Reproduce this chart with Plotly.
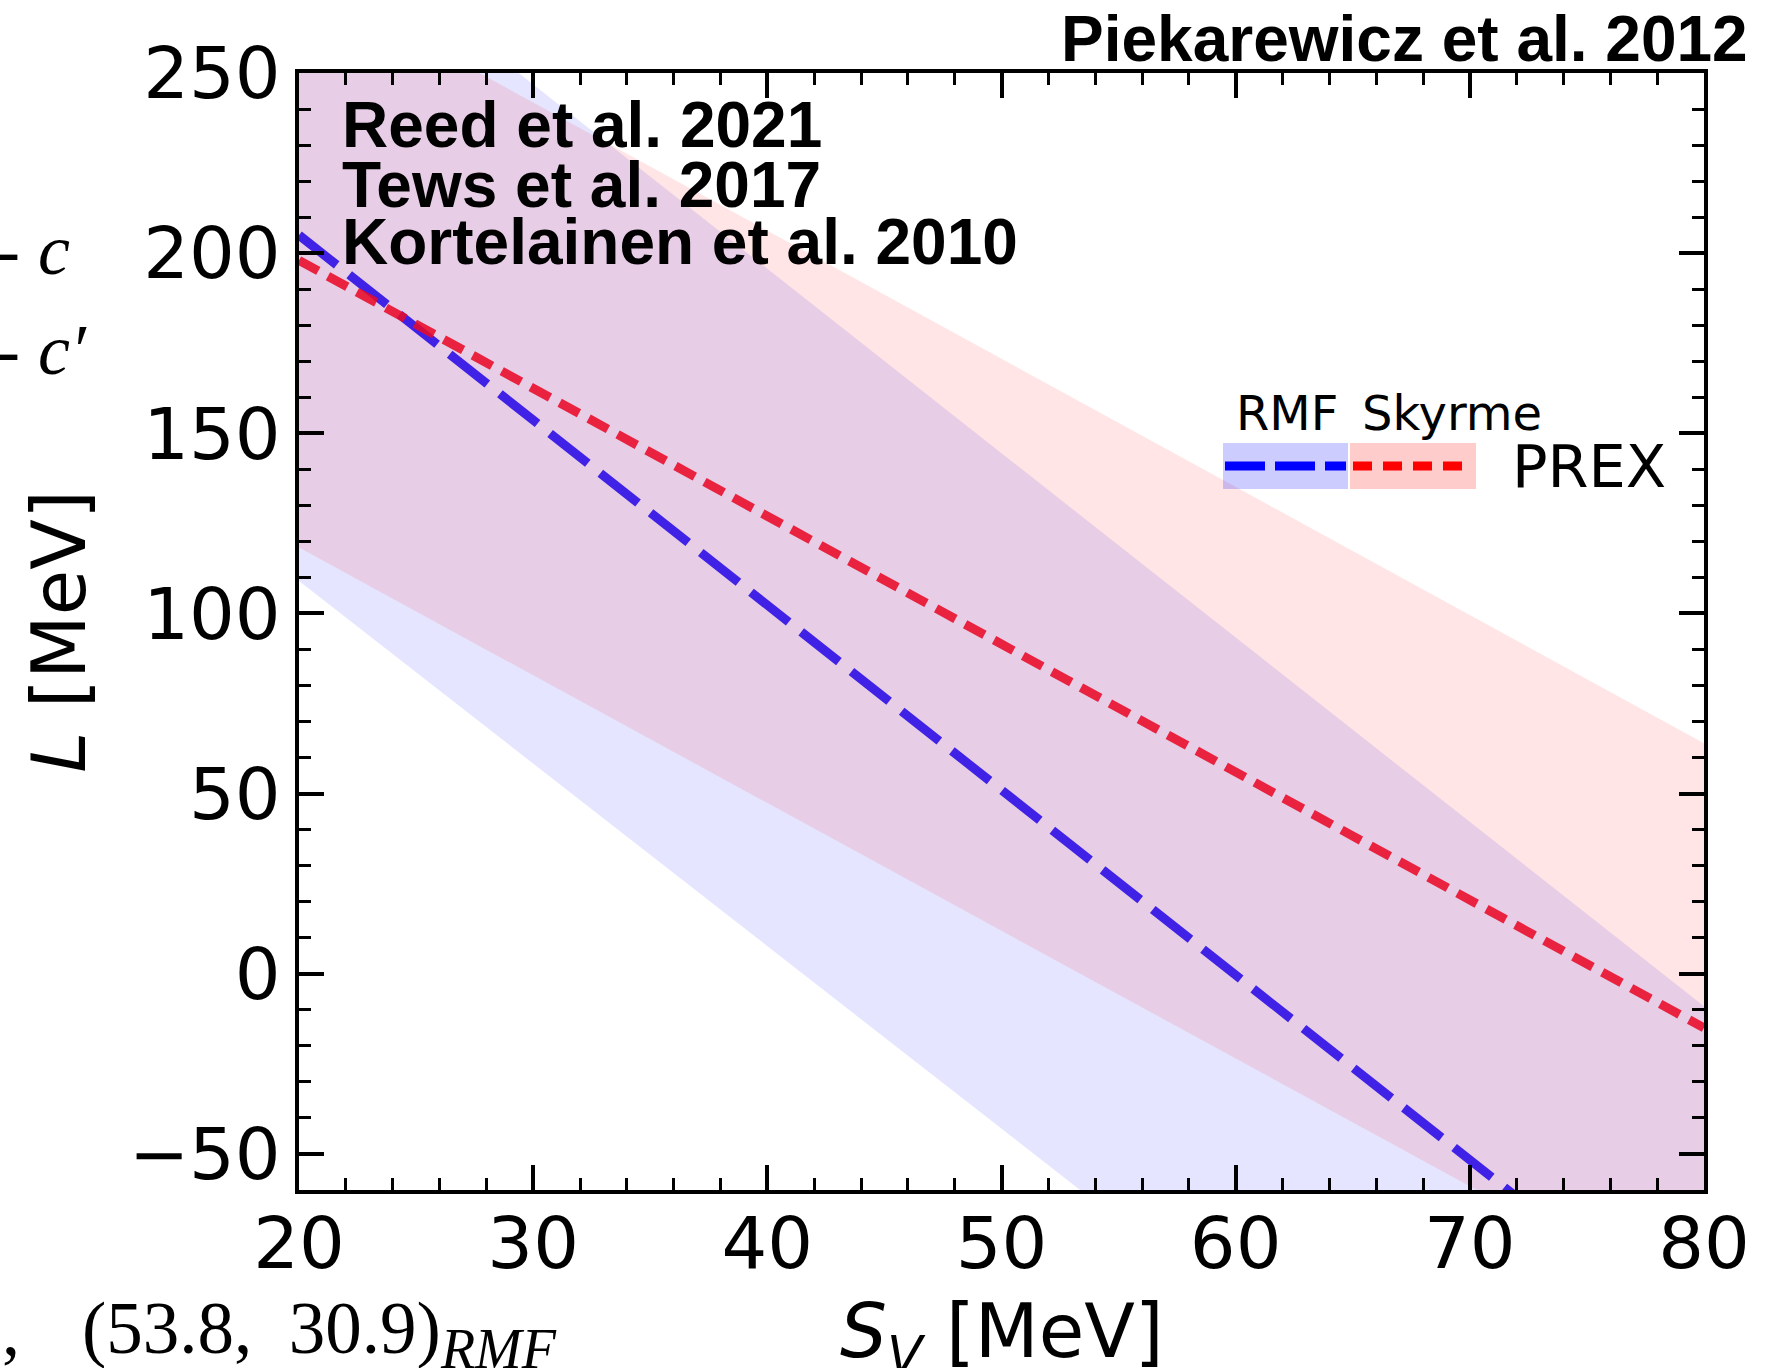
import plotly.graph_objects as go

# ---------------- data ----------------
sv_edges = [20, 80]                 # S_V [MeV] at the left / right plot edges
rmf_upper = [298.0, -9.0]           # RMF band upper edge, L [MeV]
rmf_lower = [109.0, -195.0]         # RMF band lower edge
sky_upper = [277.4, 64.0]           # Skyrme band upper edge
sky_lower = [118.3, -94.4]          # Skyrme band lower edge
rmf_line = [205.0, -103.0]          # RMF PREX line
sky_line = [198.0, -15.0]           # Skyrme PREX line

x_ticks = [20, 30, 40, 50, 60, 70, 80]
y_ticks = [-50, 0, 50, 100, 150, 200, 250]
x_range = [20, 80]
y_range = [-60, 250]

ref_labels = ["Reed et al. 2021", "Tews et al. 2017", "Kortelainen et al. 2010"]
title_text = "Piekarewicz et al. 2012"
legend_cols = ["RMF", "Skyrme"]
legend_row = "PREX"
x_title = "<i>S</i><sub><i>V</i></sub> [MeV]"
y_title = "<i>L</i> [MeV]"

# ---------------- layout geometry (pixels) ----------------
W, H = 1785, 1368
L0, R0, T0, B0 = 299, 1704, 73, 1190


def px_x(px):
    return (px - L0) / (R0 - L0)


def px_y(py):
    return (B0 - py) / (B0 - T0)


fig = go.Figure()

# bands
fig.add_trace(go.Scatter(
    x=sv_edges + sv_edges[::-1], y=rmf_upper + rmf_lower[::-1],
    fill="toself", fillcolor="rgba(0,0,255,0.10)", line=dict(width=0),
    mode="lines", hoverinfo="skip", showlegend=False))
fig.add_trace(go.Scatter(
    x=sv_edges + sv_edges[::-1], y=sky_upper + sky_lower[::-1],
    fill="toself", fillcolor="rgba(255,0,0,0.10)", line=dict(width=0),
    mode="lines", hoverinfo="skip", showlegend=False))

# lines
fig.add_trace(go.Scatter(
    x=sv_edges, y=rmf_line, mode="lines",
    line=dict(color="rgba(40,10,230,0.88)", width=9, dash="48px,16px"),
    showlegend=False))
fig.add_trace(go.Scatter(
    x=sv_edges, y=sky_line, mode="lines",
    line=dict(color="rgba(232,10,40,0.88)", width=9, dash="22px,11px"),
    showlegend=False))

tickfont = dict(family="DejaVu Sans", size=72, color="black")
axis_common = dict(
    ticks="inside", ticklen=25, tickwidth=4, tickcolor="black",
    showline=True, linewidth=4, linecolor="black", mirror="allticks",
    showgrid=False, zeroline=False, tickfont=tickfont,
)

fig.update_layout(
    width=W, height=H,
    margin=dict(l=L0, r=W - R0, t=T0, b=H - B0, autoexpand=False),
    paper_bgcolor="white", plot_bgcolor="white",
    showlegend=False,
    xaxis=dict(range=x_range, tickmode="array", tickvals=x_ticks,
               ticklabelstandoff=-12,
               minor=dict(tick0=20, dtick=2, ticks="inside", ticklen=12,
                          tickwidth=3, tickcolor="black"),
               **axis_common),
    yaxis=dict(range=y_range, tickmode="array", tickvals=y_ticks,
               minor=dict(tick0=0, dtick=10, ticks="inside", ticklen=12,
                          tickwidth=3, tickcolor="black"),
               title=dict(text=y_title,
                          font=dict(family="DejaVu Sans", size=74, color="black"),
                          standoff=20),
               **axis_common),
)

ann = []
# x-axis title (placed as annotation so it can run off the bottom edge as in the reference)
ann.append(dict(text=x_title, x=px_x(1002), y=px_y(1336), xref="paper", yref="paper",
                xanchor="center", yanchor="middle", showarrow=False,
                font=dict(family="DejaVu Sans", size=74, color="black")))
# title (top right)
ann.append(dict(text="<b>%s</b>" % title_text, x=px_x(1750), y=px_y(39),
                xref="paper", yref="paper", xanchor="right", yanchor="middle",
                showarrow=False, font=dict(family="Liberation Sans", size=64, color="black")))
# reference block
for lab, ypx in zip(ref_labels, [125, 185, 242]):
    ann.append(dict(text="<b>%s</b>" % lab, x=px_x(340), y=px_y(ypx),
                    xref="paper", yref="paper", xanchor="left", yanchor="middle",
                    showarrow=False, font=dict(family="Liberation Sans", size=64, color="black")))

# manual legend
blue_patch = (1223, 1348)
red_patch = (1350, 1476)
patch_y = (443, 489)
shapes = [
    dict(type="rect", xref="paper", yref="paper",
         x0=px_x(blue_patch[0]), x1=px_x(blue_patch[1]),
         y0=px_y(patch_y[1]), y1=px_y(patch_y[0]),
         fillcolor="rgba(0,0,255,0.2)", line=dict(width=0), layer="above"),
    dict(type="rect", xref="paper", yref="paper",
         x0=px_x(red_patch[0]), x1=px_x(red_patch[1]),
         y0=px_y(patch_y[1]), y1=px_y(patch_y[0]),
         fillcolor="rgba(255,0,0,0.2)", line=dict(width=0), layer="above"),
    dict(type="line", xref="paper", yref="paper",
         x0=px_x(1225), x1=px_x(1346), y0=px_y(466), y1=px_y(466),
         line=dict(color="#0000ff", width=9, dash="40px,10px"), layer="above"),
    dict(type="line", xref="paper", yref="paper",
         x0=px_x(1353), x1=px_x(1463), y0=px_y(466), y1=px_y(466),
         line=dict(color="#ff0000", width=9, dash="19px,11px"), layer="above"),
]
ann.append(dict(text=legend_cols[0], x=px_x(1287), y=px_y(413), xref="paper", yref="paper",
                xanchor="center", yanchor="middle", showarrow=False,
                font=dict(family="DejaVu Sans", size=48, color="black")))
ann.append(dict(text=legend_cols[1], x=px_x(1452), y=px_y(413), xref="paper", yref="paper",
                xanchor="center", yanchor="middle", showarrow=False,
                font=dict(family="DejaVu Sans", size=48, color="black")))
ann.append(dict(text=legend_row, x=px_x(1510), y=px_y(466), xref="paper", yref="paper",
                xanchor="left", yanchor="middle", showarrow=False,
                font=dict(family="DejaVu Sans", size=59, color="black")))

# fragments of the surrounding page visible at the left / bottom edges
serif = dict(family="Liberation Serif", size=72, color="black")
ann.append(dict(text="-\u00a0<i>c</i>", x=px_x(-6), y=px_y(250), xref="paper", yref="paper",
                xanchor="left", yanchor="middle", showarrow=False, font=serif))
ann.append(dict(text="-\u00a0<i>c\u2032</i>", x=px_x(-6), y=px_y(350), xref="paper", yref="paper",
                xanchor="left", yanchor="middle", showarrow=False, font=serif))
ann.append(dict(text=",", x=px_x(0), y=px_y(1330), xref="paper", yref="paper",
                xanchor="left", yanchor="middle", showarrow=False,
                font=dict(family="Liberation Serif", size=72, color="black")))
ann.append(dict(text="(53.8,\u00a0\u00a030.9)<sub><span style=\"font-size:56px\"><i>RMF</i></span></sub>",
                x=px_x(80), y=px_y(1334),
                xref="paper", yref="paper", xanchor="left", yanchor="middle", showarrow=False,
                font=dict(family="Liberation Serif", size=73, color="black")))

fig.update_layout(annotations=ann, shapes=shapes)

fig.write_html("out.html")
